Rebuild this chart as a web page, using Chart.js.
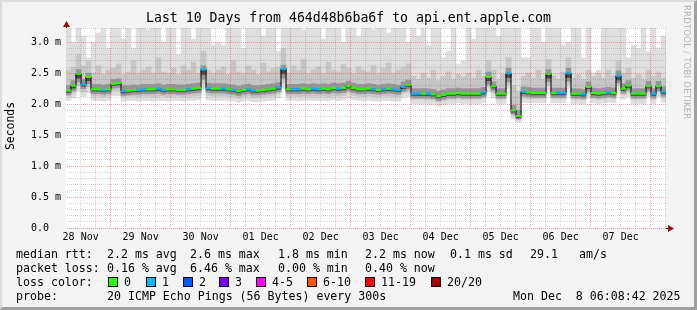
<!DOCTYPE html>
<html><head><meta charset="utf-8">
<script src="https://cdn.jsdelivr.net/npm/chart.js@4"></script>
<style>
html,body{margin:0;padding:0;background:#f3f3f3;}
#wrap{position:relative;width:697px;height:310px;background:#f3f3f3;overflow:hidden;font-family:"DejaVu Sans Mono",monospace;color:#000;}
#frame{position:absolute;left:0;top:0;width:697px;height:310px;box-sizing:border-box;border-top:2px solid #dcdcdc;border-left:2px solid #dcdcdc;border-right:3px solid #a0a0a0;border-bottom:3px solid #a0a0a0;pointer-events:none;}
#cbox{position:absolute;left:0;top:0;width:697px;height:310px;}
.t{position:absolute;white-space:pre;font-size:11.6px;line-height:14px;}
.box{position:absolute;width:8px;height:8px;border:1px solid #000;}
#title{position:absolute;left:0;top:10px;width:697px;text-align:center;font-size:13.2px;line-height:16px;white-space:pre;}
#ytitle{position:absolute;left:-16px;top:119px;width:52px;text-align:center;font-size:11.4px;line-height:14px;transform:rotate(-90deg);}
#wm{position:absolute;left:682px;top:5px;writing-mode:vertical-rl;font-family:"DejaVu Sans",sans-serif;font-size:8.4px;color:#b4b4b4;letter-spacing:0.3px;}
</style></head>
<body>
<div id="wrap">
  <div id="cbox"><canvas id="c"></canvas></div>
  <div id="title">Last 10 Days from 464d48b6ba6f to api.ent.apple.com</div>
  <div id="ytitle">Seconds</div>
  <div id="wm">RRDTOOL / TOBI OETIKER</div>
  <div id="legend"></div>
  <div id="frame"></div>
</div>
<script>
// ---- data ----
const dayLabels = ['28 Nov','29 Nov','30 Nov','01 Dec','02 Dec','03 Dec','04 Dec','05 Dec','06 Dec','07 Dec'];
const startTimeOfDay = 6 + 8/60 + 42/3600;   // graph starts 28 Nov 06:08:42
const spanHours = 240;
const binHours = 2;

const median = [
 2.22,2.30,2.49,2.32,2.44,2.24,2.24,2.23,2.24,2.33,
 2.34,2.21,2.22,2.23,2.23,2.24,2.24,2.24,2.25,2.23,
 2.24,2.24,2.23,2.23,2.24,2.25,2.26,2.56,2.26,2.25,
 2.25,2.25,2.24,2.23,2.21,2.23,2.24,2.22,2.22,2.23,
 2.24,2.25,2.27,2.57,2.24,2.24,2.24,2.25,2.24,2.25,
 2.24,2.25,2.24,2.26,2.25,2.26,2.29,2.26,2.24,2.24,
 2.25,2.24,2.23,2.24,2.25,2.24,2.23,2.28,2.31,2.17,
 2.17,2.17,2.17,2.16,2.13,2.15,2.17,2.17,2.18,2.17,
 2.17,2.17,2.17,2.19,2.44,2.29,2.17,2.17,2.50,1.90,
 1.81,2.20,2.19,2.18,2.18,2.18,2.49,2.18,2.18,2.18,
 2.50,2.17,2.17,2.16,2.28,2.18,2.17,2.18,2.19,2.18,
 2.46,2.25,2.30,2.17,2.17,2.17,2.29,2.17,2.29,2.20];

const lossBucket = [
 0,0,0,1,0,0,0,1,0,0,
 0,1,0,0,1,1,0,0,1,1,
 0,0,0,0,1,0,0,1,1,0,
 0,1,0,1,0,0,1,1,0,0,
 0,0,1,1,0,1,1,0,0,1,
 1,0,0,0,1,0,0,0,0,0,
 0,1,0,1,0,1,1,1,0,1,
 1,0,1,0,0,0,0,0,0,0,
 0,0,0,1,0,0,0,0,1,0,
 0,1,0,0,0,0,0,0,1,1,
 1,0,0,1,0,0,0,0,1,0,
 1,0,0,0,0,0,0,1,0,1];

const smokeLow = [
 2.06,2.10,2.22,2.12,2.18,2.06,2.06,2.05,2.06,2.14,
 2.14,2.05,2.06,2.06,2.05,2.06,2.06,2.05,2.06,2.06,
 2.05,2.06,2.06,2.05,2.06,2.06,2.07,2.24,2.07,2.06,
 2.06,2.06,2.05,2.05,2.03,2.05,2.06,2.04,2.04,2.05,
 2.06,2.06,2.10,2.26,2.06,2.06,2.05,2.06,2.06,2.06,
 2.06,2.06,2.05,2.07,2.06,2.07,2.10,2.07,2.06,2.05,
 2.06,2.05,2.05,2.06,2.06,2.05,2.05,2.10,2.12,2.01,
 2.01,2.01,2.00,2.00,1.97,1.99,2.01,2.01,2.02,2.01,
 2.01,2.01,2.01,2.03,2.20,2.10,2.01,2.01,2.24,1.76,
 1.71,2.03,2.02,2.02,2.02,2.02,2.22,2.02,2.02,2.02,
 2.24,2.01,2.01,2.00,2.10,2.02,2.01,2.02,2.03,2.02,
 2.22,2.08,2.12,2.01,2.01,2.01,2.12,2.01,2.12,2.03];

const darkLow = [
 2.13,2.18,2.30,2.20,2.28,2.13,2.13,2.12,2.13,2.22,
 2.22,2.12,2.13,2.13,2.12,2.13,2.13,2.12,2.13,2.13,
 2.12,2.13,2.13,2.12,2.13,2.13,2.14,2.32,2.14,2.13,
 2.13,2.13,2.12,2.12,2.10,2.12,2.13,2.11,2.11,2.12,
 2.13,2.13,2.17,2.34,2.13,2.13,2.12,2.13,2.13,2.13,
 2.13,2.13,2.12,2.14,2.13,2.14,2.18,2.14,2.13,2.12,
 2.13,2.12,2.12,2.13,2.13,2.12,2.12,2.18,2.20,2.08,
 2.08,2.08,2.07,2.07,2.04,2.06,2.08,2.08,2.09,2.08,
 2.08,2.08,2.08,2.10,2.28,2.18,2.08,2.08,2.32,1.82,
 1.76,2.10,2.09,2.09,2.09,2.09,2.30,2.09,2.09,2.09,
 2.32,2.08,2.08,2.07,2.18,2.09,2.08,2.09,2.10,2.09,
 2.30,2.15,2.20,2.08,2.08,2.08,2.20,2.08,2.20,2.10];

const shadeLow = [
 2.15,2.22,2.36,2.25,2.33,2.17,2.17,2.16,2.17,2.26,
 2.27,2.14,2.15,2.16,2.16,2.17,2.17,2.17,2.18,2.16,
 2.17,2.17,2.16,2.16,2.17,2.18,2.19,2.40,2.19,2.18,
 2.18,2.18,2.17,2.16,2.14,2.16,2.17,2.15,2.15,2.16,
 2.17,2.18,2.20,2.42,2.17,2.17,2.17,2.18,2.17,2.18,
 2.17,2.18,2.17,2.19,2.18,2.19,2.22,2.19,2.17,2.17,
 2.18,2.17,2.16,2.17,2.18,2.17,2.16,2.21,2.24,2.10,
 2.10,2.10,2.10,2.09,2.06,2.08,2.10,2.10,2.11,2.10,
 2.10,2.10,2.10,2.12,2.32,2.22,2.10,2.10,2.36,1.84,
 1.76,2.13,2.12,2.11,2.11,2.11,2.36,2.11,2.11,2.11,
 2.37,2.10,2.10,2.09,2.21,2.11,2.10,2.11,2.12,2.11,
 2.34,2.18,2.23,2.10,2.10,2.10,2.22,2.10,2.22,2.13];

const coreLow = [
 2.19,2.26,2.42,2.29,2.38,2.21,2.21,2.20,2.21,2.30,
 2.31,2.18,2.19,2.20,2.20,2.21,2.21,2.21,2.22,2.20,
 2.21,2.21,2.20,2.20,2.21,2.22,2.23,2.48,2.23,2.22,
 2.22,2.22,2.21,2.20,2.18,2.20,2.21,2.19,2.19,2.20,
 2.21,2.22,2.24,2.49,2.21,2.21,2.21,2.22,2.21,2.22,
 2.21,2.22,2.21,2.23,2.22,2.23,2.26,2.23,2.21,2.21,
 2.22,2.21,2.20,2.21,2.22,2.21,2.20,2.25,2.28,2.14,
 2.14,2.14,2.14,2.13,2.10,2.12,2.14,2.14,2.15,2.14,
 2.14,2.14,2.14,2.16,2.38,2.26,2.14,2.14,2.43,1.87,
 1.78,2.17,2.16,2.15,2.15,2.15,2.42,2.15,2.15,2.15,
 2.43,2.14,2.14,2.13,2.25,2.15,2.14,2.15,2.16,2.15,
 2.39,2.22,2.27,2.14,2.14,2.14,2.26,2.14,2.26,2.17];

const darkTop = [
 2.30,2.38,2.56,2.40,2.50,2.32,2.32,2.31,2.32,2.40,
 2.41,2.30,2.30,2.31,2.31,2.32,2.32,2.32,2.33,2.31,
 2.32,2.32,2.31,2.31,2.32,2.33,2.34,2.62,2.34,2.33,
 2.33,2.33,2.32,2.31,2.29,2.31,2.32,2.30,2.30,2.31,
 2.32,2.33,2.35,2.63,2.32,2.32,2.32,2.33,2.32,2.33,
 2.32,2.33,2.32,2.34,2.33,2.34,2.37,2.34,2.32,2.32,
 2.33,2.32,2.31,2.32,2.33,2.32,2.31,2.36,2.39,2.25,
 2.25,2.25,2.25,2.24,2.21,2.23,2.25,2.25,2.26,2.25,
 2.25,2.25,2.25,2.27,2.52,2.36,2.25,2.25,2.58,1.98,
 1.90,2.28,2.27,2.26,2.26,2.26,2.56,2.26,2.26,2.26,
 2.58,2.25,2.25,2.24,2.36,2.26,2.25,2.26,2.27,2.26,
 2.54,2.33,2.38,2.25,2.25,2.25,2.37,2.25,2.37,2.28];

const midTop = [
 2.55,2.60,2.80,2.62,2.70,2.50,2.62,2.48,2.55,2.58,
 2.65,2.48,2.52,2.70,2.50,2.55,2.60,2.50,2.75,2.52,
 2.50,2.58,2.48,2.62,2.55,2.68,2.50,2.85,2.55,2.50,
 2.55,2.60,2.48,2.70,2.52,2.50,2.62,2.55,2.48,2.66,
 2.52,2.58,2.60,2.90,2.50,2.62,2.55,2.72,2.50,2.56,
 2.60,2.50,2.68,2.55,2.52,2.64,2.58,2.50,2.60,2.55,
 2.52,2.62,2.50,2.58,2.66,2.50,2.55,2.60,2.65,2.45,
 2.40,2.50,2.42,2.55,2.38,2.45,2.52,2.40,2.48,2.44,
 2.50,2.42,2.55,2.45,2.70,2.55,2.40,2.48,2.75,2.30,
 2.20,2.45,2.50,2.42,2.55,2.40,2.72,2.46,2.40,2.52,
 2.75,2.42,2.48,2.40,2.55,2.45,2.50,2.42,2.55,2.46,
 2.70,2.50,2.58,2.42,2.48,2.40,2.55,2.45,2.52,2.42];

const smokeTop = [
 3.30,3.00,3.30,3.10,2.75,3.00,3.15,3.30,2.90,3.30,
 3.30,3.05,3.30,2.90,3.30,3.30,3.20,3.30,3.30,3.00,
 3.30,3.30,2.80,3.30,3.30,3.05,3.30,3.30,3.30,2.95,
 3.00,2.95,3.30,3.30,3.30,2.90,3.30,3.30,3.30,3.10,
 3.30,3.30,2.85,3.30,3.30,3.30,3.30,3.20,3.30,3.30,
 3.30,3.05,3.30,3.30,3.30,3.00,3.30,3.30,3.10,3.30,
 3.30,3.20,3.30,3.30,3.15,3.30,3.30,3.30,3.00,3.30,
 3.10,3.30,2.95,3.30,3.30,2.75,2.85,3.30,2.65,2.70,
 3.30,3.05,3.30,3.30,3.30,3.30,3.10,3.30,3.30,3.30,
 3.30,2.75,2.75,3.30,3.30,3.00,3.30,3.30,3.30,2.95,
 3.00,3.30,3.30,2.75,3.30,2.50,2.55,3.30,3.30,3.30,
 3.30,3.30,2.75,2.95,2.90,3.30,2.85,3.30,2.90,3.10];

const legendStats = {
  rtt: ['2.2 ms avg','2.6 ms max','1.8 ms min','2.2 ms now','0.1 ms sd','29.1','am/s'],
  loss: ['0.16 % avg','6.46 % max','0.00 % min','0.40 % now']
};
const lossLabels = ['0','1','2','3','4-5','6-10','11-19','20/20'];
const lossColors = ['#26ff00','#00b8ff','#0059ff','#7e00ff','#ff00ff','#ff5500','#ff0000','#a10000'];

// ---- legend text (HTML) ----
(function(){
  const L = document.getElementById('legend');
  function put(txt, x, yc){ const d=document.createElement('div'); d.className='t'; d.textContent=txt; d.style.left=x+'px'; d.style.top=(yc-7)+'px'; L.appendChild(d); }
  put('median rtt:',16,254);
  const rttX=[107,190,278,365,450,530,579];
  legendStats.rtt.forEach((s,i)=>put(s,rttX[i],254));
  put('packet loss:',16,268);
  const lossX=[107,190,278,365];
  legendStats.loss.forEach((s,i)=>put(s,lossX[i],268));
  put('loss color:',16,282);
  const boxX=[108,146,183,219,256,307,365,431];
  lossLabels.forEach((s,i)=>{
    const b=document.createElement('div'); b.className='box'; b.style.left=boxX[i]+'px'; b.style.top='277px'; b.style.background=lossColors[i]; L.appendChild(b);
    put(s, boxX[i]+16, 282);
  });
  put('probe:',16,296);
  put('20 ICMP Echo Pings (56 Bytes) every 300s',107,296);
  put('Mon Dec  8 06:08:42 2025',513,296);
})();

// ---- chart ----
const xs = median.map((_, i) => i*binHours + binHours/2);
const band = (lo, hi) => xs.map((x, i) => ({x, y:[lo[i], hi[i]]}));

const bgPlugin = {
  id:'bgArrows',
  beforeDraw(chart){
    const {ctx, chartArea:a} = chart;
    ctx.save(); ctx.fillStyle='#ffffff';
    ctx.fillRect(a.left, a.top, a.right-a.left, a.bottom-a.top);
    ctx.restore();
  },
  afterDraw(chart){
    const {ctx, chartArea:a} = chart;
    const L = Math.round(a.left)+0.5, B = Math.round(a.bottom)+0.5;
    ctx.save();
    ctx.strokeStyle='#000'; ctx.lineWidth=1;
    ctx.beginPath(); ctx.moveTo(a.right, B); ctx.lineTo(a.right+3, B); ctx.stroke();
    ctx.beginPath(); ctx.moveTo(L, a.top); ctx.lineTo(L, a.top-3); ctx.stroke();
    ctx.fillStyle='#901010';
    ctx.beginPath(); ctx.moveTo(a.right+2, B-3.5); ctx.lineTo(a.right+8, B); ctx.lineTo(a.right+2, B+3.5); ctx.closePath(); ctx.fill();
    ctx.beginPath(); ctx.moveTo(L-3.5, a.top-1); ctx.lineTo(L, a.top-7); ctx.lineTo(L+3.5, a.top-1); ctx.closePath(); ctx.fill();
    ctx.restore();
  }
};

const barCommon = {type:'bar', grouped:false, barPercentage:1, categoryPercentage:1, borderWidth:0};
const isMidnight = v => { const h = ((v + startTimeOfDay) % 24 + 24) % 24; return h < 0.01 || h > 23.99; };
const MAJOR = 'rgba(255,40,40,0.42)', MINOR = 'rgba(140,140,140,0.38)';

new Chart(document.getElementById('c'), {
  type:'bar',
  data:{
    datasets:[
      {type:'line', data: xs.map((x,i)=>({x, y:median[i]})), stepped:'middle', borderColor:'#000', borderWidth:1,
       pointStyle:'line', pointRadius:2.6, pointBorderWidth:2.2, pointBorderColor: lossBucket.map(b=>lossColors[b]),
       pointBackgroundColor: lossBucket.map(b=>lossColors[b]), order:0},
      Object.assign({data: band(coreLow, median), backgroundColor:'#4a4a4a', order:1}, barCommon),
      Object.assign({data: band(shadeLow, darkTop), backgroundColor:'#959595', order:2}, barCommon),
      Object.assign({data: band(darkLow, midTop), backgroundColor:'#c6c6c6', order:3}, barCommon),
      Object.assign({data: band(smokeLow, smokeTop), backgroundColor:'#dedede', order:4}, barCommon)
    ]
  },
  options:{
    responsive:true, maintainAspectRatio:false, animation:false,
    layout:{padding:{top:28, right:31, bottom:62, left:0}},
    plugins:{legend:{display:false}, tooltip:{enabled:false}},
    scales:{
      x:{
        type:'linear', min:0, max:spanHours, offset:false,
        afterBuildTicks: s => {
          const first = (12 - startTimeOfDay + 24) % 6;
          const t=[]; for (let v=first; v<=spanHours; v+=6) t.push({value:v});
          s.ticks = t;
        },
        afterFit: s => { s.height = 20; },
        ticks:{
          autoSkip:false, maxRotation:0, padding:3, color:'#000',
          font:{family:'DejaVu Sans Mono', size:10},
          callback:(v)=>{
            const hod = ((v + startTimeOfDay) % 24);
            if (Math.abs(hod-12) < 0.01) { const d = Math.floor((v + startTimeOfDay)/24); return dayLabels[d] || ''; }
            return '';
          }
        },
        grid:{offset:false, drawTicks:false, z:1,
          color: c => isMidnight(c.tick.value) ? MAJOR : MINOR},
        border:{color:'#000', width:1, dash:[1,1]}
      },
      y:{
        type:'linear', min:0, max:3.23,
        afterFit: s => { s.width = 66; },
        ticks:{
          stepSize:0.1, autoSkip:false, padding:5, color:'#000',
          font:{family:'DejaVu Sans Mono', size:10},
          callback:(v)=>{
            const k = Math.round(v*10);
            if (k % 5 !== 0) return '';
            return k === 0 ? '0.0  ' : (k/10).toFixed(1) + ' m';
          }
        },
        grid:{drawTicks:false, z:1,
          color: c => (Math.round(c.tick.value*10) % 5 === 0) ? MAJOR : MINOR},
        border:{color:'#000', width:1, dash:[1,1]}
      }
    }
  },
  plugins:[bgPlugin]
});
</script>
</body></html>
